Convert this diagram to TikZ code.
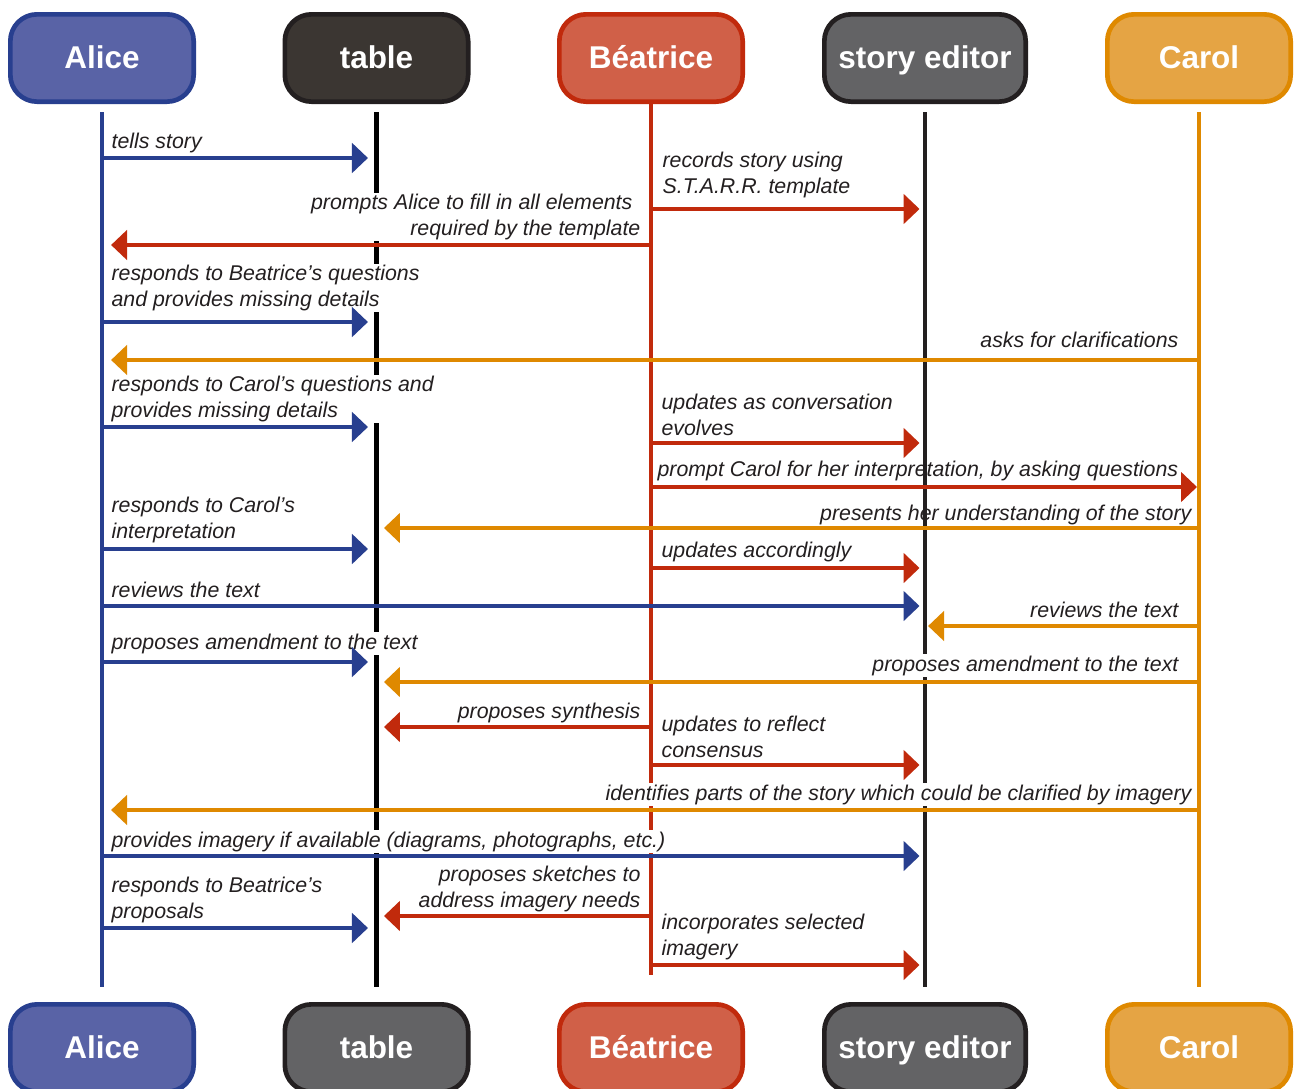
\documentclass[tikz,border=0pt]{standalone}
\usepackage{fontspec}
\setmainfont{Liberation Sans}
\usetikzlibrary{arrows.meta}
\definecolor{aliceF}{RGB}{89,99,166}
\definecolor{aliceD}{RGB}{40,63,143}
\definecolor{tableF}{RGB}{59,54,50}
\definecolor{grayF}{RGB}{99,99,101}
\definecolor{darkD}{RGB}{35,31,32}
\definecolor{beaF}{RGB}{208,96,72}
\definecolor{beaD}{RGB}{193,42,12}
\definecolor{carolF}{RGB}{229,164,68}
\definecolor{carolD}{RGB}{223,137,0}
\definecolor{txt}{RGB}{35,31,32}
\begin{document}
\begin{tikzpicture}[x=0.75pt,y=-0.75pt,
  actor/.style={draw, line width=3.5pt, rounded corners=20pt, minimum width=137.5pt,
    minimum height=65.5pt, text=white, font=\bfseries\fontsize{23.6}{28}\selectfont,
    inner sep=0pt, text height=17pt, text depth=1pt},
  life/.style={line width=3.6pt},
  msg/.style={line width=3.6pt, -{Triangle[length=12pt,width=22pt]}},
  toTr/.style={shorten >=6.4pt},
  toTl/.style={shorten >=5.6pt},
  toSr/.style={shorten >=4.1pt},
  toSl/.style={shorten >=2.3pt},
  toAl/.style={shorten >=6.8pt},
  toCr/.style={shorten >=1.5pt},
  lbl/.style={font=\itshape\fontsize{16}{19}\selectfont, text=txt, fill=white, inner sep=1pt},
  lblnf/.style={lbl, fill=none},
]
\useasboundingbox (0,0) rectangle (1297,1089);
\fill[white] (0,0) rectangle (1297,1089);

% actors top
\node[actor, fill=aliceF, draw=aliceD] (At) at (102,58) {Alice};
\node[actor, fill=tableF, draw=darkD] (Tt) at (376.5,58) {table};
\node[actor, fill=beaF, draw=beaD] (Bt) at (651,58) {Béatrice};
\node[actor, fill=grayF, draw=darkD, minimum width=151pt] (St) at (925,58) {story editor};
\node[actor, fill=carolF, draw=carolD] (Ct) at (1199,58) {Carol};
% actors bottom
\node[actor, fill=aliceF, draw=aliceD] (Ab) at (102,1048) {Alice};
\node[actor, fill=grayF, draw=darkD] (Tb) at (376.5,1048) {table};
\node[actor, fill=beaF, draw=beaD] (Bb) at (651,1048) {Béatrice};
\node[actor, fill=grayF, draw=darkD, minimum width=151pt] (Sb) at (925,1048) {story editor};
\node[actor, fill=carolF, draw=carolD] (Cb) at (1199,1048) {Carol};

% lifelines
\draw[life, aliceD] (At |- 0,112) -- (Ab |- 0,987);
\draw[life, black] (Tt |- 0,112) -- (Tb |- 0,987);
\draw[life, beaD] (Bt.south) -- (Bb |- 0,975);
\draw[life, darkD] (St |- 0,112) -- (Sb |- 0,987);
\draw[life, carolD] (Ct |- 0,112) -- (Cb |- 0,987);

% labels (anchor base = baseline of the last line)
\node[lbl, anchor=base west] (l1) at (110,148) {tells story};
\node[lbl, anchor=base west, align=left] (l2) at (661,193) {records story using\\S.T.A.R.R. template};
\node[lbl, anchor=base east, align=right] (l3) at (642,235) {prompts Alice to fill in all elements\kern6pt\\required by the template};
\node[lbl, anchor=base west, align=left] (l4) at (110,306) {responds to Beatrice’s questions\\and provides missing details};
\node[lbl, anchor=base east] (l5) at (1180,347) {asks for clarifications};
\node[lbl, anchor=base west, align=left] (l6) at (110,417) {responds to Carol’s questions and\\provides missing details};
\node[lbl, anchor=base west, align=left] (l7) at (660,435) {updates as conversation\\evolves};
\node[lblnf, anchor=base west] (l8) at (656,476) {prompt Carol for her interpretation, by asking questions};
\node[lbl, anchor=base west, align=left] (l9) at (110,538) {responds to Carol’s\\interpretation};
\node[lblnf, anchor=base east] (l10) at (1193,520) {presents her understanding of the story};
\node[lbl, anchor=base west] (l11) at (660,557) {updates accordingly};
\node[lbl, anchor=base west] (l12) at (110,597) {reviews the text};
\node[lbl, anchor=base east] (l13) at (1180,617) {reviews the text};
\node[lbl, anchor=base west] (l14) at (110,649) {proposes amendment to the text};
\node[lbl, anchor=base east] (l15) at (1180,671) {proposes amendment to the text};
\node[lbl, anchor=base east] (l16) at (642,718) {proposes synthesis};
\node[lbl, anchor=base west, align=left] (l17) at (660,757) {updates to reflect\\consensus};
\node[lbl, anchor=base east] (l18) at (1193,800) {identifies parts of the story which could be clarified by imagery};
\node[lbl, anchor=base west] (l19) at (110,847) {provides imagery if available (diagrams, photographs, etc.)};
\node[lbl, anchor=base west, align=left] (l20) at (110,918) {responds to Beatrice’s\\proposals};
\node[lbl, anchor=base east, align=right] (l21) at (642,907) {proposes sketches to\\address imagery needs};
\node[lbl, anchor=base west, align=left] (l22) at (660,955) {incorporates selected\\imagery};

% messages
\draw[msg, aliceD, toTr] (At |- 0,158) -- (Tt |- 0,158);
\draw[msg, beaD, toSr] (Bt |- 0,209) -- (St |- 0,209);
\draw[msg, beaD, toAl] (Bt |- 0,245) -- (At |- 0,245);
\draw[msg, aliceD, toTr] (At |- 0,322) -- (Tt |- 0,322);
\draw[msg, carolD, toAl] (Ct |- 0,360) -- (At |- 0,360);
\draw[msg, aliceD, toTr] (At |- 0,427) -- (Tt |- 0,427);
\draw[msg, beaD, toSr] (Bt |- 0,443) -- (St |- 0,443);
\draw[msg, beaD, toCr] (Bt |- 0,487) -- (Ct |- 0,487);
\draw[msg, carolD, toTl] (Ct |- 0,528) -- (Tt |- 0,528);
\draw[msg, aliceD, toTr] (At |- 0,549) -- (Tt |- 0,549);
\draw[msg, beaD, toSr] (Bt |- 0,568) -- (St |- 0,568);
\draw[msg, aliceD, toSr] (At |- 0,606) -- (St |- 0,606);
\draw[msg, carolD, toSl] (Ct |- 0,626) -- (St |- 0,626);
\draw[msg, aliceD, toTr] (At |- 0,662) -- (Tt |- 0,662);
\draw[msg, carolD, toTl] (Ct |- 0,682) -- (Tt |- 0,682);
\draw[msg, beaD, toTl] (Bt |- 0,727) -- (Tt |- 0,727);
\draw[msg, beaD, toSr] (Bt |- 0,765) -- (St |- 0,765);
\draw[msg, carolD, toAl] (Ct |- 0,810) -- (At |- 0,810);
\draw[msg, aliceD, toSr] (At |- 0,856) -- (St |- 0,856);
\draw[msg, beaD, toTl] (Bt |- 0,916) -- (Tt |- 0,916);
\draw[msg, aliceD, toTr] (At |- 0,928) -- (Tt |- 0,928);
\draw[msg, beaD, toSr] (Bt |- 0,965) -- (St |- 0,965);
\end{tikzpicture}
\end{document}
